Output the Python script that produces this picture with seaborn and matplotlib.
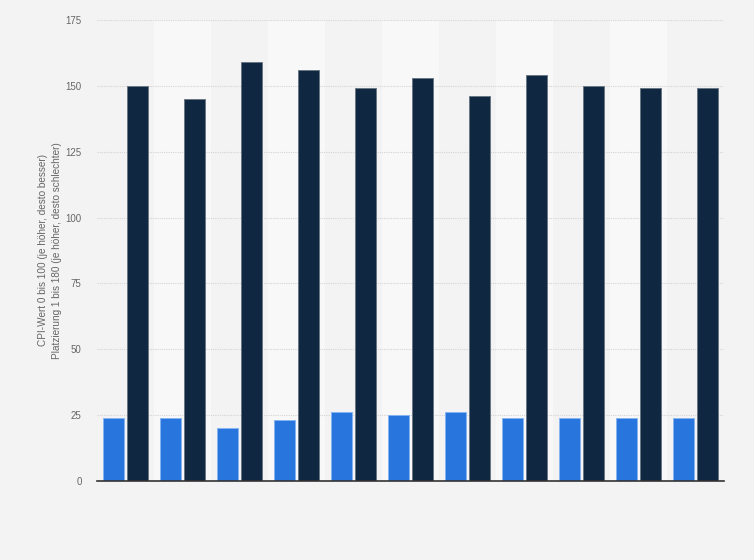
import matplotlib
matplotlib.use("Agg")
import matplotlib.pyplot as plt
import seaborn as sns
import pandas as pd

# ---- data ----
categories = ["2012", "2013", "2014", "2015", "2016", "2017", "2018", "2019", "2020", "2021", "2022"]
series_names = ["CPI-Wert", "Platzierung"]
cpi_values = [24, 24, 20, 23, 26, 25, 26, 24, 24, 24, 24]
rank_values = [150, 145, 159, 156, 149, 153, 146, 154, 150, 149, 149]
y_ticks = [0, 25, 50, 75, 100, 125, 150, 175]
y_label = "CPI-Wert 0 bis 100 (je höher, desto besser)\nPlatzierung 1 bis 180 (je höher, desto schlechter)"

df = pd.DataFrame({
    "Kategorie": categories * 2,
    "Serie": [series_names[0]] * len(categories) + [series_names[1]] * len(categories),
    "Wert": cpi_values + rank_values,
})

sns.set_theme(style="white")
plt.rcParams["font.family"] = ["Liberation Sans", "DejaVu Sans"]

bg = "#f3f3f3"
fig = plt.figure(figsize=(7.54, 5.60), dpi=100, facecolor=bg)
ax = fig.add_axes([0.1286, 0.1411, 0.8316, 0.8232])
ax.set_facecolor(bg)

palette = {series_names[0]: "#2876dd", series_names[1]: "#0f2740"}
sns.barplot(data=df, x="Kategorie", y="Wert", hue="Serie", palette=palette,
            width=0.82, gap=0.1, ax=ax, legend=False, saturation=1, zorder=3)

edge_cols = ["#86b4f2", "#6a7886"]
for c, cont in enumerate(ax.containers):
    for patch in cont:
        patch.set_edgecolor(edge_cols[c])
        patch.set_linewidth(0.7)

n = len(categories)
# alternating background bands
for i in range(n):
    if i % 2 == 1:
        ax.axvspan(i - 0.5, i + 0.5, facecolor="#f8f8f8", edgecolor="none", zorder=0, lw=0)

ax.set_xlim(-0.5, n - 0.5)
ax.set_ylim(0, 175)
ax.set_yticks(y_ticks)
ax.set_yticklabels([str(t) for t in y_ticks], color="#666666", fontsize=7)
ax.tick_params(axis="y", length=0, pad=11)
ax.set_xticks(range(n))
ax.set_xticklabels([])
ax.tick_params(axis="x", length=0)
ax.set_xlabel("")
ax.set_ylabel(y_label, color="#666666", fontsize=7.2, labelpad=2.5, linespacing=1.45)

ax.yaxis.grid(True, color="#d4d4d4", linestyle=(0, (1, 1)), linewidth=0.8, zorder=1)
ax.set_axisbelow(True)
for sp in ["top", "right", "left"]:
    ax.spines[sp].set_visible(False)
ax.spines["bottom"].set_color("#333333")
ax.spines["bottom"].set_linewidth(1.2)
ax.spines["bottom"].set_zorder(5)

fig.savefig("out.png", dpi=100, facecolor=bg)
